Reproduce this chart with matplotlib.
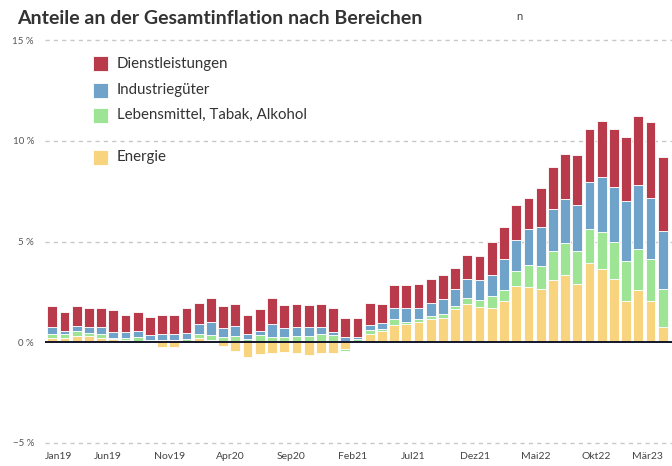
import matplotlib
matplotlib.use('Agg')
import matplotlib.pyplot as plt
import matplotlib.transforms as mtransforms
from matplotlib.patches import Rectangle
import numpy as np

# Monthly contributions to headline inflation (percentage points), Jan19 .. Mär23
months = ['Jan', 'Feb', 'Mär', 'Apr', 'Mai', 'Jun', 'Jul', 'Aug', 'Sep', 'Okt', 'Nov', 'Dez']
labels = [m + str(y) for y in range(19, 24) for m in months][:51]

energie = [0.20, 0.23, 0.30, 0.30, 0.23, 0.15, 0.12, 0.07, 0.05, -0.26,
           -0.26, 0.03, 0.23, 0.13, -0.21, -0.41, -0.71, -0.59, -0.54, -0.48,
           -0.54, -0.61, -0.54, -0.54, -0.36, 0.03, 0.41, 0.57, 0.84, 0.90,
           1.02, 1.13, 1.18, 1.64, 1.92, 1.74, 1.71, 2.03, 2.81, 2.76,
           2.66, 3.10, 3.36, 2.87, 3.94, 3.66, 3.15, 2.03, 2.60, 2.03, 0.75]
lebensmittel = [0.21, 0.18, 0.26, 0.16, 0.18, 0.06, 0.08, 0.18, 0.08, 0.10,
                0.10, 0.12, 0.18, 0.21, 0.25, 0.33, 0.18, 0.36, 0.28, 0.28,
                0.33, 0.33, 0.41, 0.36, -0.05, 0.13, 0.20, 0.07, 0.29, 0.12,
                0.11, 0.17, 0.23, 0.17, 0.28, 0.34, 0.59, 0.55, 0.72, 1.05,
                1.10, 1.45, 1.58, 1.66, 1.68, 1.79, 1.84, 2.01, 2.05, 2.12, 1.89]
industrie = [0.33, 0.16, 0.24, 0.28, 0.33, 0.32, 0.33, 0.32, 0.21, 0.31,
             0.31, 0.31, 0.49, 0.64, 0.44, 0.47, 0.23, 0.21, 0.64, 0.41,
             0.41, 0.41, 0.33, 0.17, 0.25, 0.09, 0.24, 0.33, 0.59, 0.70,
             0.59, 0.67, 0.72, 0.85, 0.95, 1.02, 1.06, 1.57, 1.56, 1.81,
             1.97, 2.06, 2.19, 2.30, 2.34, 2.74, 2.74, 2.97, 3.15, 3.03, 2.86]
dienst = [1.05, 0.91, 0.99, 0.97, 0.97, 1.05, 0.83, 0.91, 0.91, 0.95,
          0.95, 1.23, 1.07, 1.22, 1.12, 1.12, 0.95, 1.07, 1.28, 1.17,
          1.18, 1.12, 1.18, 1.18, 0.93, 0.93, 1.12, 0.95, 1.10, 1.10,
          1.15, 1.18, 1.19, 1.03, 1.17, 1.17, 1.60, 1.58, 1.71, 1.56,
          1.94, 2.09, 2.23, 2.47, 2.63, 2.80, 2.86, 3.19, 3.43, 3.76, 3.70]

series = [('Energie', energie, '#F9D47F'),
          ('Lebensmittel, Tabak, Alkohol', lebensmittel, '#9DE594'),
          ('Industriegüter', industrie, '#6FA3C9'),
          ('Dienstleistungen', dienst, '#B93B4B')]

plt.rcParams['font.family'] = ['Lato', 'DejaVu Sans']

fig = plt.figure(figsize=(6.72, 4.66), dpi=100)
ax = fig.add_axes([45 / 672, 18 / 466, 627 / 672, 418 / 466])

x = np.arange(len(labels))
pos = np.zeros(len(labels))
neg = np.zeros(len(labels))
for name, vals, col in series:
    v = np.array(vals)
    bottom = np.where(v >= 0, pos, neg)
    ax.bar(x, v, bottom=bottom, width=0.8, color=col, edgecolor='white', linewidth=0.6)
    pos = pos + np.clip(v, 0, None)
    neg = neg + np.clip(v, None, 0)

ax.set_xlim(-0.59, 50.76)
ax.set_ylim(-5.25, 15.5)

# grid lines and zero line
for yv in [15, 10, 5, -5]:
    ax.axhline(yv, color='#c8c8c8', linewidth=1, linestyle=(0, (3, 3)), zorder=0)
ax.axhline(0, color='#15152a', linewidth=1.4, zorder=5)

for s in ax.spines.values():
    s.set_visible(False)

ax.set_yticks([15, 10, 5, 0, -5])
ax.set_yticklabels(['15 %', '10 %', '5 %', '0 %', '\u22125 %'])
ax.tick_params(axis='y', length=0, pad=8, labelsize=7, labelcolor='#555555')

tick_idx = list(range(0, 51, 5))
ax.set_xticks(tick_idx)
ax.set_xticklabels([labels[i] for i in tick_idx])
ax.tick_params(axis='x', length=0, pad=3, labelsize=7.5, labelcolor='#444444')
tl = ax.get_xticklabels()
tl[0].set_horizontalalignment('left')
tl[-1].set_horizontalalignment('right')
# labels sit slightly left of the bar centres, as in the original
for i, t in enumerate(tl):
    dx = -7 if i == 0 else (0 if i == len(tl) - 1 else -5)
    t.set_transform(t.get_transform() + mtransforms.ScaledTranslation(dx / 100, 0, fig.dpi_scale_trans))

# title
fig.text(17 / 672, 1 - 19 / 466, 'Anteile an der Gesamtinflation nach Bereichen',
         fontsize=14, fontweight='bold', color='#333333', va='center', ha='left')
fig.text(519 / 672, 1 - 16 / 466, 'n', fontsize=8, color='#444444', va='center', ha='center')

# legend
legend_items = [('Dienstleistungen', '#B93B4B', 64),
                ('Industriegüter', '#6FA3C9', 90),
                ('Lebensmittel, Tabak, Alkohol', '#9DE594', 115),
                ('Energie', '#F9D47F', 157)]
for name, col, yc in legend_items:
    fig.patches.append(Rectangle((93 / 672, 1 - (yc + 7.5) / 466), 15 / 672, 15 / 466,
                                 transform=fig.transFigure, facecolor=col,
                                 edgecolor='white', linewidth=0.6))
    fig.text(117 / 672, 1 - yc / 466, name, fontsize=10.8, color='#333333',
             va='center', ha='left')

plt.savefig('out.png', dpi=100)
